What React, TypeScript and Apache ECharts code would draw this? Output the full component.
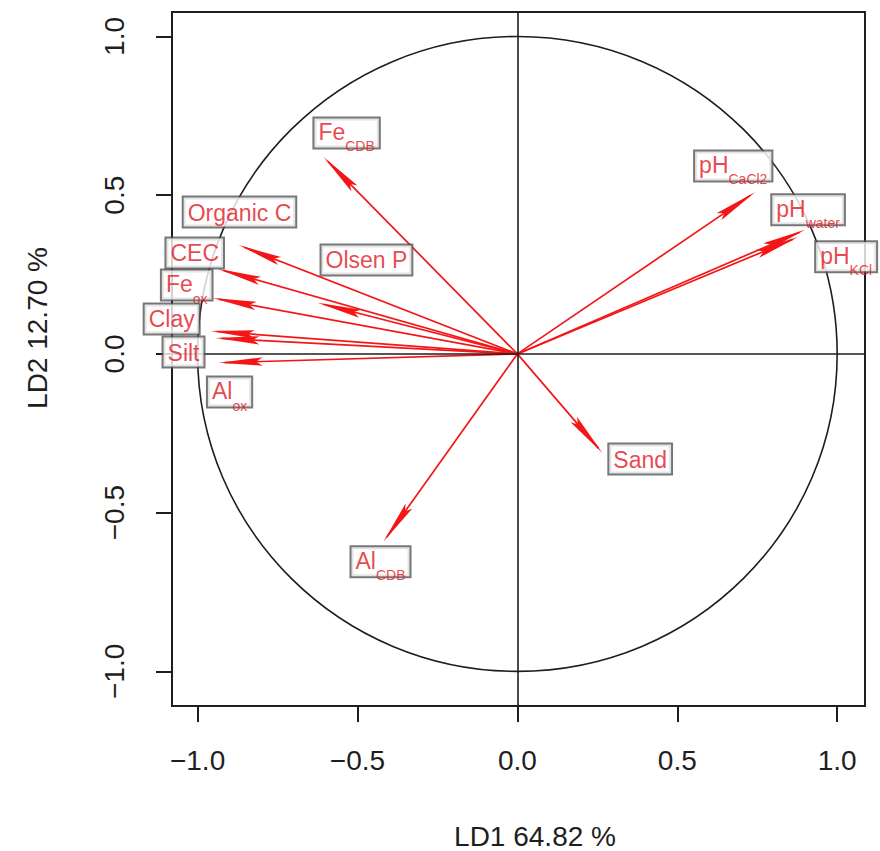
import React, { useEffect, useRef } from "react";
import * as echarts from "echarts";

// Loadings (arrow tips) on LD1 / LD2
const variables = ["Fe_CDB", "Organic C", "CEC", "Fe_ox", "Clay", "Silt", "Al_ox", "Olsen P", "pH_CaCl2", "pH_water", "pH_KCl", "Sand", "Al_CDB"];
const ld1 = [-0.606, -0.872, -0.9375, -0.953, -0.959, -0.944, -0.934, -0.625, 0.744, 0.9, 0.878, 0.266, -0.419];
const ld2 = [0.62, 0.343, 0.268, 0.176, 0.072, 0.05, -0.028, 0.161, 0.51, 0.391, 0.368, -0.312, -0.592];
// Label anchor points (data coordinates)
const labelX = [-0.534, -0.869, -1.009, -1.034, -1.081, -1.044, -0.9, -0.472, 0.675, 0.909, 1.028, 0.384, -0.428];
const labelY = [0.696, 0.447, 0.318, 0.217, 0.11, 0.006, -0.12, 0.296, 0.592, 0.454, 0.306, -0.331, -0.655];
const labelMain = ["Fe", "Organic C", "CEC", "Fe", "Clay", "Silt", "Al", "Olsen P", "pH", "pH", "pH", "Sand", "Al"];
const labelSub = ["CDB", "", "", "ox", "", "", "ox", "", "CaCl2", "water", "KCl", "", "CDB"];

const tickValues = [-1, -0.5, 0, 0.5, 1];
const xTitle = "LD1 64.82 %";
const yTitle = "LD2 12.70 %";

const FONT = "'Liberation Sans', Arial, sans-serif";
const RED = "#f41616";
const RED_TEXT = "#e3161e";
const DARK = "#1e1e1e";

const fmt = (v: number) => (v < 0 ? "\u2212" : "") + Math.abs(v).toFixed(1);

export default function App() {
  const ref = useRef<HTMLDivElement>(null);
  useEffect(() => {
    if (!ref.current) return;
    const chart = echarts.init(ref.current, null, { renderer: "svg" });

    const arrowData = variables.map((n, i) => ({ name: n, value: [ld1[i], ld2[i]] }));
    const labelData = variables.map((n, i) => ({
      name: n,
      value: [labelX[i], labelY[i]],
      main: labelMain[i],
      sub: labelSub[i],
    }));

    const option: any = {
      animation: false,
      grid: {
        left: 172,
        top: 12,
        width: 693,
        height: 694,
        show: true,
        borderColor: DARK,
        borderWidth: 2,
        backgroundColor: "transparent",
        containLabel: false,
        outerBoundsMode: "none",
      },
      xAxis: {
        type: "value",
        min: -1.08,
        max: 1.087,
        position: "bottom",
        axisLine: { show: false, onZero: false },
        splitLine: { show: false },
        axisTick: { show: true, inside: false, customValues: tickValues, length: 16, lineStyle: { color: DARK, width: 2 } },
        axisLabel: {
          customValues: tickValues,
          formatter: (v: number) => fmt(v),
          fontSize: 28,
          color: DARK,
          fontFamily: FONT,
          margin: 40,
        },
      },
      yAxis: {
        type: "value",
        min: -1.109,
        max: 1.077,
        position: "left",
        axisLine: { show: false, onZero: false },
        splitLine: { show: false },
        axisTick: { show: true, inside: false, customValues: tickValues, length: 16, lineStyle: { color: DARK, width: 2 } },
        axisLabel: {
          customValues: tickValues,
          formatter: (v: number) => fmt(v),
          fontSize: 28,
          color: DARK,
          fontFamily: FONT,
          rotate: 90,
          margin: 44,
        },
      },
      graphic: [
        {
          type: "text",
          x: 535,
          y: 836,
          style: { text: xTitle, font: `28px ${FONT}`, fill: DARK, textAlign: "center", textVerticalAlign: "middle" },
        },
        {
          type: "text",
          x: 37,
          y: 328,
          rotation: Math.PI / 2,
          style: { text: yTitle, font: `28px ${FONT}`, fill: DARK, textAlign: "center", textVerticalAlign: "middle" },
        },
      ],
      series: [
        {
          type: "custom",
          name: "circle",
          z: 1,
          silent: true,
          clip: false,
          data: [[0, 0]],
          renderItem: (params: any, api: any) => {
            const c = api.coord([api.value(0), api.value(1)]);
            const s = api.size([1, 1]);
            return {
              type: "ellipse",
              shape: { cx: c[0], cy: c[1], rx: s[0], ry: s[1] },
              style: { fill: "none", stroke: DARK, lineWidth: 1.6 },
            };
          },
          markLine: {
            silent: true,
            symbol: ["none", "none"],
            label: { show: false },
            lineStyle: { color: DARK, width: 1.6, type: "solid" },
            data: [{ xAxis: 0 }, { yAxis: 0 }],
          },
        },
        {
          type: "custom",
          name: "arrows",
          z: 3,
          silent: true,
          clip: false,
          data: arrowData,
          renderItem: (params: any, api: any) => {
            const o = api.coord([0, 0]);
            const t = api.coord([api.value(0), api.value(1)]);
            const dx = t[0] - o[0];
            const dy = t[1] - o[1];
            const L = Math.hypot(dx, dy) || 1;
            const ux = dx / L;
            const uy = dy / L;
            const hl = 44;
            const hw = 4.2;
            const bx = t[0] - ux * hl;
            const by = t[1] - uy * hl;
            const nx = -uy;
            const ny = ux;
            const notch = [t[0] - ux * hl * 0.85, t[1] - uy * hl * 0.85];
            return {
              type: "group",
              children: [
                {
                  type: "line",
                  shape: { x1: o[0], y1: o[1], x2: t[0] - ux * 6, y2: t[1] - uy * 6 },
                  style: { stroke: RED, lineWidth: 1.7 },
                },
                {
                  type: "polygon",
                  shape: { points: [[t[0], t[1]], [bx + nx * hw, by + ny * hw], notch, [bx - nx * hw, by - ny * hw]] },
                  style: { fill: RED },
                },
              ],
            };
          },
        },
        {
          type: "scatter",
          name: "labels",
          z: 10,
          silent: true,
          clip: false,
          symbolSize: 1,
          itemStyle: { color: "transparent" },
          data: labelData,
          labelLayout: { hideOverlap: false },
          label: {
            show: true,
            position: "inside",
            color: RED_TEXT,
            fontFamily: FONT,
            backgroundColor: "#ffffff",
            borderColor: "#555555",
            borderWidth: 2,
            padding: [2, 4, 1, 4],
            formatter: (p: any) =>
              p.data.sub ? `{m|${p.data.main}}{s|${p.data.sub}}` : `{p|${p.data.main}}`,
            rich: {
              p: { fontSize: 23, lineHeight: 26, color: RED_TEXT, fontFamily: FONT },
              m: { fontSize: 23, lineHeight: 26, color: RED_TEXT, fontFamily: FONT, verticalAlign: "top" },
              s: { fontSize: 14, lineHeight: 14, color: RED_TEXT, fontFamily: FONT, verticalAlign: "top", padding: [19, 0, 0, 0] },
            },
          },
        },
      ],
    };

    chart.setOption(option);
    return () => chart.dispose();
  }, []);

  return <div ref={ref} style={{ position: "fixed", left: 0, top: 0, width: 880, height: 851, background: "#fff" }} />;
}
